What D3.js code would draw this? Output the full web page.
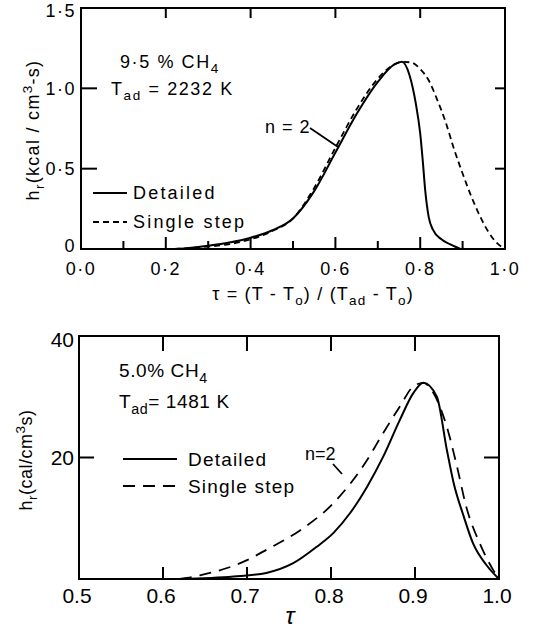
<!DOCTYPE html>
<html>
<head>
<meta charset="utf-8">
<script src="https://cdn.jsdelivr.net/npm/d3@7"></script>
<style>
  body { margin: 0; background: #fff; }
  svg text { font-family: "Liberation Sans", Arial, sans-serif; fill: #000; }
</style>
</head>
<body>
<svg id="chart" width="536" height="629"></svg>
<script>

// top panel: 9.5% CH4
let topDetailed = [[0.22,0],[0.25,0.005],[0.3,0.02],[0.35,0.04],[0.4,0.07],[0.45,0.115],[0.5,0.19],
  [0.55,0.36],[0.6,0.6],[0.65,0.84],[0.7,1.04],[0.74,1.15],[0.757,1.165],[0.775,1.08],[0.79,0.9],
  [0.8,0.72],[0.806,0.55],[0.812,0.36],[0.82,0.2],[0.83,0.12],[0.85,0.06],[0.87,0.03],[0.895,0]];
let topSingle = [[0.22,0],[0.3,0.015],[0.35,0.03],[0.4,0.06],[0.45,0.11],[0.5,0.19],[0.55,0.38],
  [0.6,0.63],[0.65,0.87],[0.7,1.06],[0.74,1.15],[0.76,1.165],[0.78,1.16],[0.8,1.12],[0.82,1.05],
  [0.84,0.93],[0.86,0.79],[0.88,0.62],[0.9,0.47],[0.92,0.33],[0.94,0.21],[0.96,0.11],[0.98,0.04],[1.0,0]];
let topXTicks = [0, 0.2, 0.4, 0.6, 0.8, 1.0];
let topXTickLabels = ["0·0", "0·2", "0·4", "0·6", "0·8", "1·0"];
let topYTicks = [0, 0.5, 1.0, 1.5];
let topYTickLabels = ["0", "0·5", "1·0", "1·5"];

// bottom panel: 5.0% CH4
let botDetailed = [[0.62,0],[0.684,0.4],[0.723,1],[0.755,2.6],[0.783,5.3],[0.803,7.6],[0.823,10.9],
  [0.843,15.2],[0.862,20.1],[0.882,26.2],[0.898,30.6],[0.91,32.3],[0.926,30],[0.938,21.2],
  [0.946,15.8],[0.958,10.3],[0.969,5.9],[0.985,2.3],[1.0,0]];
let botSingle = [[0.62,0],[0.644,0.6],[0.7,3.1],[0.723,4.8],[0.763,8],[0.803,12.5],[0.843,19.6],
  [0.862,24],[0.882,28.4],[0.898,31.7],[0.91,32.3],[0.922,30.6],[0.938,25],[0.95,18.5],
  [0.961,11.9],[0.977,5.9],[0.993,1.5],[1.0,0]];
let botXTicks = [0.5, 0.6, 0.7, 0.8, 0.9, 1.0];
let botXTickLabels = ["0.5", "0.6", "0.7", "0.8", "0.9", "1.0"];
let botYTicks = [20, 40];
let botYTickLabels = ["20", "40"];


let svg = d3.select("#chart");


function drawPanel (p) {
  let x = d3.scaleLinear().domain(p.xd).range([p.left, p.right]);
  let y = d3.scaleLinear().domain(p.yd).range([p.bottom, p.top]);
  let g = svg.append("g");

  g.append("rect")
    .attr("x", p.left).attr("y", p.top)
    .attr("width", p.right - p.left).attr("height", p.bottom - p.top)
    .attr("fill", "none").attr("stroke", "#000").attr("stroke-width", 2);

  // inward ticks
  for (let t of p.bottomTicks) {
    g.append("line").attr("x1", x(t[0])).attr("x2", x(t[0]))
      .attr("y1", p.bottom).attr("y2", p.bottom - t[1])
      .attr("stroke", "#000").attr("stroke-width", 2);
  }
  for (let t of p.topTicks) {
    g.append("line").attr("x1", x(t)).attr("x2", x(t))
      .attr("y1", p.top).attr("y2", p.top + p.topLen)
      .attr("stroke", "#000").attr("stroke-width", 2);
  }
  for (let t of p.sideTicks) {
    g.append("line").attr("x1", p.left).attr("x2", p.left + p.leftLen)
      .attr("y1", y(t)).attr("y2", y(t)).attr("stroke", "#000").attr("stroke-width", 2);
    g.append("line").attr("x1", p.right).attr("x2", p.right - p.rightLen)
      .attr("y1", y(t)).attr("y2", y(t)).attr("stroke", "#000").attr("stroke-width", 2);
  }

  // tick labels
  g.selectAll(".xl").data(p.xTicks).enter().append("text")
    .attr("x", d => x(d) - p.xLabDx).attr("y", p.bottom + p.xLabDy)
    .attr("text-anchor", "middle")
    .style("font-size", p.tickFont + "px").style("letter-spacing", p.tickSpace + "px")
    .text((d, i) => p.xTickLabels[i]);
  g.selectAll(".yl").data(p.yTicks).enter().append("text")
    .attr("x", p.left - 5)
    .attr("y", d => Math.max(y(d) + p.tickFont * 0.36 - (d == 0 ? 3 : 0), p.top + p.tickFont * 0.5))
    .attr("text-anchor", "end")
    .style("font-size", p.tickFont + "px").style("letter-spacing", p.tickSpace + "px")
    .text((d, i) => p.yTickLabels[i]);

  let line = d3.line().x(d => x(d[0])).y(d => y(d[1])).curve(d3.curveMonotoneX);

  g.append("path").datum(p.detailed).attr("d", line)
    .attr("fill", "none").attr("stroke", "#000").attr("stroke-width", 2);
  g.append("path").datum(p.single).attr("d", line)
    .attr("fill", "none").attr("stroke", "#000").attr("stroke-width", 1.8)
    .attr("stroke-dasharray", p.dash);

  return {x: x, y: y, g: g};
}


let topP = drawPanel({
  xd: [0, 1], yd: [0, 1.5], left: 81, right: 505, top: 8, bottom: 249,
  bottomTicks: d3.range(1, 10).map(i => [i / 10, i % 2 == 0 ? 12 : 8]),
  topTicks: [0.2, 0.4, 0.6, 0.8], topLen: 10,
  sideTicks: [0.5, 1.0], leftLen: 16, rightLen: 10,
  xTicks: topXTicks, xTickLabels: topXTickLabels, yTicks: topYTicks, yTickLabels: topYTickLabels,
  xLabDy: 26, xLabDx: 0, tickFont: 18, tickSpace: 1.5,
  detailed: topDetailed, single: topSingle, dash: "6,4"
});

let botP = drawPanel({
  xd: [0.5, 1], yd: [0, 40], left: 79, right: 499, top: 336, bottom: 579,
  bottomTicks: [0.6, 0.7, 0.8, 0.9].map(v => [v, 12]),
  topTicks: [0.6, 0.7, 0.8, 0.9], topLen: 15,
  sideTicks: [20], leftLen: 15, rightLen: 15,
  xTicks: botXTicks, xTickLabels: botXTickLabels, yTicks: botYTicks, yTickLabels: botYTickLabels,
  xLabDy: 24, xLabDx: 2, tickFont: 21, tickSpace: 0,
  detailed: botDetailed, single: botSingle, dash: "12,8"
});


// HELPER FUNCTIONS

function richText (g, px, py, parts, size, spacing, anchor) {
  let t = g.append("text").attr("x", px).attr("y", py)
    .attr("text-anchor", anchor || "start")
    .style("font-size", size + "px").style("letter-spacing", spacing + "px");
  let shift = 0;
  for (let pt of parts) {
    let s = t.append("tspan").text(pt[0]);
    let want = pt[1] == "sub" ? size * 0.3 : pt[1] == "sup" ? -size * 0.4 : 0;
    if (want != shift) s.attr("dy", want - shift);
    shift = want;
    if (pt[1]) s.style("font-size", (size * 0.75) + "px");
  }
  return t;
}

function legend (g, x1, x2, yy, dash, label, tx, size, spacing) {
  g.append("line").attr("x1", x1).attr("x2", x2).attr("y1", yy).attr("y2", yy)
    .attr("stroke", "#000").attr("stroke-width", 2).attr("stroke-dasharray", dash);
  g.append("text").attr("x", tx).attr("y", yy + size * 0.36)
    .style("font-size", size + "px").style("letter-spacing", spacing + "px").text(label);
}


// top panel texts
richText(topP.g, 120, 68, [["9·5 % CH"], ["4", "sub"]], 18, 1.6);
richText(topP.g, 111, 95, [["T"], ["ad", "sub"], [" = 2232 K"]], 18, 1.6);
legend(topP.g, 93, 127, 193, null, "Detailed", 133, 18, 2.2);
legend(topP.g, 93, 127, 222, "6,4", "Single step", 133, 18, 2.2);
richText(topP.g, 265, 133, [["n = 2"]], 18, 1);
topP.g.append("line").attr("x1", 310).attr("y1", 128).attr("x2", 338).attr("y2", 147)
  .attr("stroke", "#000").attr("stroke-width", 1.8);
richText(topP.g, 313, 300, [["τ = (T - T"], ["o", "sub"], [") / (T"], ["ad", "sub"], [" - T"], ["o", "sub"], [")"]],
  18, 1.2, "middle");
richText(topP.g.append("g").attr("transform", "translate(39,130) rotate(-90)"), 0, 0,
  [["h"], ["r", "sub"], ["(kcal / cm"], ["3", "sup"], ["-s)"]], 18, 1.3, "middle");

// bottom panel texts
richText(botP.g, 119, 377, [["5.0% CH"], ["4", "sub"]], 19, 0.6);
richText(botP.g, 119, 408, [["T"], ["ad", "sub"], ["= 1481 K"]], 19, 0.6);
legend(botP.g, 123, 177, 459, null, "Detailed", 188, 19, 1.2);
legend(botP.g, 123, 177, 486, "12,8", "Single step", 188, 19, 1.2);
richText(botP.g, 305, 460, [["n=2"]], 18, 0);
botP.g.append("line").attr("x1", 333).attr("y1", 464).attr("x2", 342).attr("y2", 474)
  .attr("stroke", "#000").attr("stroke-width", 1.8);
botP.g.append("text").attr("x", 290).attr("y", 624).attr("text-anchor", "middle")
  .style("font-size", "24px").style("font-style", "italic").text("τ");
richText(botP.g.append("g").attr("transform", "translate(32,460) rotate(-90)"), 0, 0,
  [["h"], ["r", "sub"], ["(cal/cm"], ["3", "sup"], ["s)"]], 18, 0.5, "middle");

</script>
</body>
</html>
